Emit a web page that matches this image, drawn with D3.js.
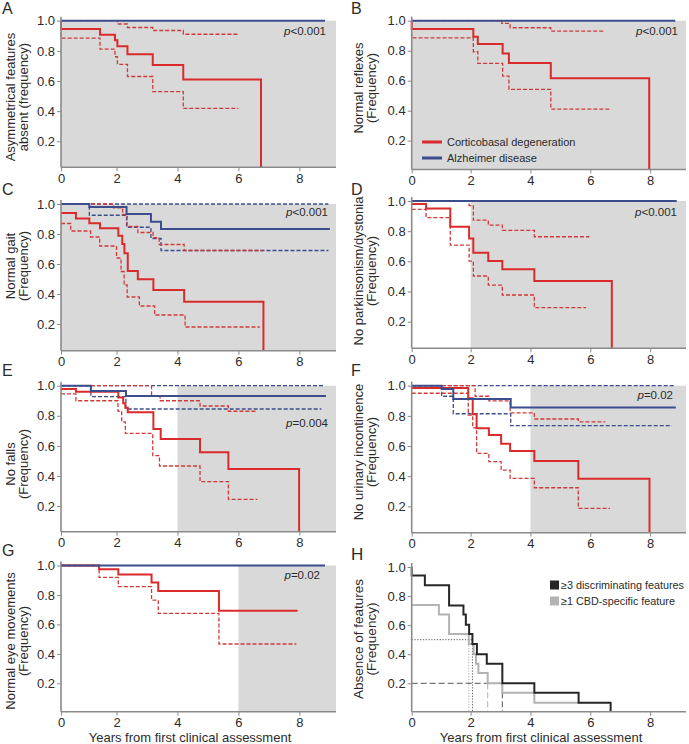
<!DOCTYPE html>
<html><head><meta charset="utf-8">
<script src="https://cdn.jsdelivr.net/npm/d3@7"></script>
<style>
body{margin:0;background:#fff}
svg{display:block}
text{font-family:"Liberation Sans",Arial,sans-serif;fill:#2b2b2b}
</style>
</head><body>
<svg id="chart" width="689" height="744"></svg>
<script>
// ---------------- data (time in years, survival frequency) ----------------
const xTickValues = [0, 2, 4, 6, 8];
const yTickValues = [0.2, 0.4, 0.6, 0.8, 1.0];
const seriesNames = ["Corticobasal degeneration", "Alzheimer disease"];
const hLegendNames = ["\u22653 discriminating features", "\u22651 CBD-specific feature"];

// A: Asymmetrical features absent
const aCBD   = [[0,1],[0,0.945],[1.46,0.907],[1.95,0.87],[2.03,0.83],[2.36,0.777],[3.19,0.706],[4.19,0.61],[6.74,0]];
const aCBDhi = [[0,1],[2.03,0.978],[2.36,0.955],[3.19,0.935],[4.19,0.91],[6.0,0.91]];
const aCBDlo = [[0,1],[0,0.885],[1.46,0.812],[1.95,0.761],[2.03,0.71],[2.36,0.63],[3.19,0.53],[4.19,0.418],[6.0,0.418]];
const aAD    = [[0,1],[8.84,1]];
// B: Normal reflexes
const bCBD   = [[0,1],[0,0.944],[2.09,0.893],[2.24,0.844],[3.07,0.782],[3.28,0.718],[4.68,0.616],[7.97,0]];
const bCBDhi = [[0,1],[3.04,0.982],[3.32,0.953],[4.68,0.93],[6.5,0.93]];
const bCBDlo = [[0,1],[0,0.885],[2.09,0.793],[2.24,0.716],[3.07,0.631],[3.28,0.542],[4.68,0.411],[6.67,0.411]];
const bAD    = [[0,1],[8.84,1]];
// C: Normal gait
const cCBD   = [[0,0.94],[0.67,0.904],[1.11,0.871],[1.46,0.838],[2.06,0.789],[2.19,0.733],[2.26,0.671],[2.37,0.553],[2.7,0.498],[3.21,0.427],[4.22,0.349],[6.82,0]];
const cCBDhi = [[0,1],[1.9,0.975],[2.2,0.93],[2.35,0.85],[2.7,0.81],[3.2,0.775],[3.4,0.73],[4.22,0.69],[6.8,0.69]];
const cCBDlo = [[0,0.87],[0.5,0.82],[1.15,0.78],[1.45,0.72],[2.0,0.64],[2.15,0.55],[2.25,0.46],[2.35,0.38],[2.75,0.32],[3.25,0.26],[4.25,0.18],[6.7,0.18]];
const cAD    = [[0,1],[1.11,0.98],[2.33,0.933],[3.13,0.882],[3.46,0.833],[9.0,0.833]];
const cADhi  = [[0,1],[8.95,1]];
const cADlo  = [[0,1],[1.11,0.925],[2.33,0.845],[3.13,0.77],[3.46,0.69],[8.95,0.69]];
// D: No parkinsonism/dystonia
const dCBD   = [[0,0.98],[0.51,0.951],[1.32,0.83],[1.95,0.752],[2.09,0.657],[2.59,0.602],[3.06,0.547],[4.13,0.47],[6.72,0]];
const dCBDhi = [[0,1],[1.95,0.97],[2.09,0.873],[2.59,0.84],[3.06,0.805],[4.13,0.763],[5.97,0.763]];
const dCBDlo = [[0,0.945],[0.51,0.89],[1.32,0.708],[1.95,0.602],[2.09,0.503],[2.59,0.443],[3.06,0.377],[4.13,0.293],[5.86,0.293]];
const dAD    = [[0,1],[8.89,1]];
// E: No falls
const eCBD   = [[0,0.978],[0.67,0.96],[2.06,0.922],[2.22,0.883],[2.29,0.854],[2.37,0.823],[3.21,0.712],[3.45,0.645],[4.74,0.557],[5.67,0.446],[7.99,0]];
const eCBDhi = [[0,1],[3.15,0.93],[3.43,0.9],[4.74,0.865],[5.67,0.83],[6.6,0.83]];
const eCBDlo = [[0,0.945],[0.67,0.9],[2.05,0.83],[2.17,0.76],[2.29,0.683],[3.19,0.535],[3.41,0.466],[4.74,0.362],[5.67,0.244],[6.62,0.244]];
const eAD    = [[0,1],[1.16,0.965],[2.31,0.931],[8.87,0.931]];
const eADhi  = [[0,1],[8.8,1]];
const eADlo  = [[0,1],[1.16,0.927],[2.31,0.845],[8.72,0.845]];
// F: No urinary incontinence
const fCBD   = [[0,0.985],[1.92,0.916],[2.07,0.81],[2.2,0.717],[2.61,0.673],[3.02,0.615],[3.32,0.567],[4.13,0.5],[5.6,0.383],[7.98,0]];
const fCBDhi = [[0,1],[2.15,0.93],[2.61,0.9],[3.32,0.82],[4.13,0.779],[5.6,0.76],[6.5,0.76]];
const fCBDlo = [[0,0.95],[1.92,0.805],[2.07,0.72],[2.2,0.551],[2.61,0.496],[3.02,0.44],[3.32,0.385],[4.13,0.323],[5.6,0.186],[6.66,0.186]];
const fAD    = [[0,1],[1.03,0.978],[1.42,0.912],[3.34,0.856],[8.86,0.856]];
const fADhi  = [[0,1],[8.8,1]];
const fADlo  = [[0,1],[1.03,0.93],[1.42,0.814],[3.34,0.735],[8.73,0.735]];
// G: Normal eye movements
const gCBD   = [[0,1],[1.43,0.975],[2.06,0.939],[3.15,0.885],[3.37,0.826],[5.36,0.693],[7.94,0.693]];
const gCBDlo = [[0,1],[1.43,0.919],[2.06,0.856],[3.15,0.765],[3.37,0.675],[5.36,0.467],[7.9,0.467]];
const gAD    = [[0,1],[8.84,1]];
// H: Absence of features
const hDisc  = [[0,1],[0,0.942],[0.47,0.875],[1.28,0.735],[1.76,0.673],[1.84,0.603],[1.95,0.539],[2.06,0.47],[2.21,0.4],[2.54,0.334],[3.06,0.2],[4.13,0.135],[5.61,0.066],[6.68,0]];
const hSpec  = [[0,0.738],[0.94,0.673],[1.28,0.539],[1.94,0.47],[2.1,0.4],[2.18,0.334],[2.26,0.27],[2.57,0.2],[3.06,0.135],[4.13,0.066],[5.61,0.066]];
const hMedian = [1.94, 2.06];   // time at 0.5 : [CBD-specific, discriminating]
const hQ20    = [2.57, 3.06];   // time at 0.2

// ---------------- drawing ----------------
const svg = d3.select("#chart");
const RED = "#d92b2b", REDD = "#d23a3a", BLUE = "#3b4d8d", BLACK = "#262626", LGRAY = "#b3b3b3";
const AXIS = "#8a8a8a", SHADE = "#d9d9d9";

const xLeft  = d3.scaleLinear().domain([0.18, 9.2]).range([61, 336]).clamp(true);
const xRight = d3.scaleLinear().domain([0.03, 9.2]).range([411.7, 686]).clamp(true);

const S  = (d, c) => ({d, c, w: 2});
const DS = (d, c) => ({d, c, w: 1.3, dash: "4,2"});

const panels = [
  {L:"A", x:xLeft,  y1:20.7,  y02:141.3, bottom:167.3, shade:0, lab:["Asymmetrical features","absent (frequency)"], labY:97, p:"<0.001", pX:326, pY:35, LY:14,
   series:[DS(aCBDlo,REDD), DS(aCBDhi,REDD), S(aCBD,RED), S(aAD,BLUE)]},
  {L:"B", x:xRight, y1:20.7,  y02:140.7, bottom:169.5, shade:0, lab:["Normal reflexes","(Frequency)"], labY:88, p:"<0.001", pX:678, pY:35, LY:14,
   series:[DS(bCBDlo,REDD), DS(bCBDhi,REDD), S(bCBD,RED), S(bAD,BLUE)]},
  {L:"C", x:xLeft,  y1:204,   y02:324,   bottom:350.7, shade:0, lab:["Normal gait","(Frequency)"], labY:266, p:"<0.001", pX:328, pY:216, LY:195,
   series:[DS(cADlo,BLUE), DS(cADhi,BLUE), DS(cCBDlo,REDD), DS(cCBDhi,REDD), S(cCBD,RED), S(cAD,BLUE)]},
  {L:"D", x:xRight, y1:201,   y02:321.7, bottom:348.3, shade:2, lab:["No parkinsonism/dystonia","(Frequency)"], labY:271, p:"<0.001", pX:677, pY:216, LY:195,
   series:[DS(dCBDlo,REDD), DS(dCBDhi,REDD), S(dCBD,RED), S(dAD,BLUE)]},
  {L:"E", x:xLeft,  y1:385.7, y02:506,   bottom:531.7, shade:4, lab:["No falls","(Frequency)"], labY:464, p:"=0.004", pX:328, pY:427, LY:376,
   series:[DS(eADlo,BLUE), DS(eADhi,BLUE), DS(eCBDlo,REDD), DS(eCBDhi,REDD), S(eCBD,RED), S(eAD,BLUE)]},
  {L:"F", x:xRight, y1:385.7, y02:506.3, bottom:532.7, shade:4, lab:["No urinary incontinence","(Frequency)"], labY:452, p:"=0.02", pX:673, pY:399, LY:376,
   series:[DS(fADlo,BLUE), DS(fADhi,BLUE), DS(fCBDlo,REDD), DS(fCBDhi,REDD), S(fCBD,RED), S(fAD,BLUE)]},
  {L:"G", x:xLeft,  y1:565.5, y02:683.3, bottom:711.7, shade:6, lab:["Normal eye movements","(Frequency)"], labY:641, p:"=0.02", pX:320, pY:579, LY:556,
   series:[DS(gCBDlo,REDD), S(gCBD,RED), S(gAD,BLUE)], xTitle:true, xTitleX:190},
  {L:"H", x:xRight, y1:567,   y02:683.3, bottom:711.7, shade:null, lab:["Absence of features","(Frequency)"], labY:639, labSize:13.5, LY:560, LSize:17,
   series:[S(hSpec,LGRAY), S(hDisc,BLACK)], xTitle:true, xTitleX:541}
];

panels.forEach(P => {
  const x = P.x;
  const y0 = d3.scaleLinear().domain([0.2, 1.0]).range([P.y02, P.y1]);
  const lo = y0.invert(P.bottom);
  const y = d3.scaleLinear().domain([lo, 1.0]).range([P.bottom, P.y1]).clamp(true);
  const [xa, xb] = x.range();
  const g = svg.append("g");

  if (P.shade !== null) {
    g.append("rect").attr("x", x(P.shade)).attr("y", y(1)).attr("width", xb - x(P.shade))
      .attr("height", P.bottom - y(1)).attr("fill", SHADE);
  }

  // H guide lines
  if (P.L === "H") {
    const lvl = [[0.5, hMedian, "1.2,1.6"], [0.2, hQ20, "6,3"]];
    lvl.forEach(([v, times, dash]) => {
      g.append("line").attr("x1", x(0)).attr("x2", x(times[1])).attr("y1", y(v)).attr("y2", y(v))
        .attr("stroke", "#444").attr("stroke-width", 0.9).attr("stroke-dasharray", dash);
      times.forEach((t, i) => {
        g.append("line").attr("x1", x(t)).attr("x2", x(t)).attr("y1", y(v)).attr("y2", P.bottom)
          .attr("stroke", i === 0 ? "#a8a8a8" : "#444").attr("stroke-width", 0.9).attr("stroke-dasharray", dash);
      });
    });
  }

  const line = d3.line().x(d => x(d[0])).y(d => y(d[1])).curve(d3.curveStepAfter);
  P.series.forEach(s => {
    g.append("path").attr("d", line(s.d)).attr("fill", "none").attr("stroke", s.c)
      .attr("stroke-width", s.w).attr("stroke-dasharray", s.dash || null);
  });

  // axes
  const ya = g.append("g").attr("transform", `translate(${xa},0)`)
    .call(d3.axisLeft(y).tickValues(yTickValues).tickFormat(d3.format(".1f")).tickSize(4).tickPadding(2));
  ya.select(".domain").remove();
  ya.selectAll(".tick line").attr("stroke", AXIS);
  ya.selectAll(".tick text").attr("font-size", 13).attr("font-family", "Liberation Sans, Arial, sans-serif").attr("fill", "#2b2b2b");
  g.append("line").attr("x1", xa).attr("x2", xa).attr("y1", P.y1 - 4).attr("y2", P.bottom)
    .attr("stroke", AXIS).attr("stroke-width", 1.6);

  const xaG = g.append("g").attr("transform", `translate(0,${P.bottom})`)
    .call(d3.axisBottom(x).tickValues(xTickValues).tickFormat(d3.format("d")).tickSize(4).tickPadding(2));
  xaG.select(".domain").remove();
  xaG.selectAll(".tick line").attr("stroke", AXIS);
  xaG.selectAll(".tick text").attr("font-size", 13).attr("font-family", "Liberation Sans, Arial, sans-serif").attr("fill", "#2b2b2b");
  g.append("line").attr("x1", xa).attr("x2", xb).attr("y1", P.bottom).attr("y2", P.bottom)
    .attr("stroke", AXIS).attr("stroke-width", 1.6);

  // y label
  const cx = xa === 61 ? 16.5 : 364.5;
  const lg = g.append("g").attr("transform", `translate(${cx},${P.labY}) rotate(-90)`);
  P.lab.forEach((t, i) => {
    lg.append("text").attr("x", 0).attr("y", i === 0 ? -6.5 : 6.5).attr("text-anchor", "middle")
      .attr("dominant-baseline", "central").attr("font-size", P.labSize || 13).text(t);
  });

  // panel letter
  g.append("text").attr("x", xa === 61 ? 2 : 351).attr("y", P.LY).attr("font-size", P.LSize || 16).text(P.L);

  // p value
  if (P.p) {
    const pt = g.append("text").attr("x", P.pX).attr("y", P.pY).attr("text-anchor", "end").attr("font-size", 11.5);
    pt.append("tspan").attr("font-style", "italic").text("p");
    pt.append("tspan").text(P.p);
  }

  if (P.xTitle) {
    g.append("text").attr("x", P.xTitleX).attr("y", 742).attr("text-anchor", "middle")
      .attr("font-size", 13).text("Years from first clinical assessment");
  }
});

// Legend in B
const legB = svg.append("g");
[[RED, 142], [BLUE, 158]].forEach(([c, yy], i) => {
  legB.append("line").attr("x1", 422).attr("x2", 442).attr("y1", yy).attr("y2", yy).attr("stroke", c).attr("stroke-width", 3);
  legB.append("text").attr("x", 447).attr("y", yy).attr("dominant-baseline", "central").attr("font-size", 11).text(seriesNames[i]);
});
// Legend in H
const legH = svg.append("g");
[[BLACK, 585], [LGRAY, 601]].forEach(([c, yy], i) => {
  legH.append("rect").attr("x", 550).attr("y", yy - 4.5).attr("width", 9).attr("height", 9).attr("fill", c);
  legH.append("text").attr("x", 561).attr("y", yy).attr("dominant-baseline", "central").attr("font-size", 10.8).text(hLegendNames[i]);
});
</script>
</body></html>
